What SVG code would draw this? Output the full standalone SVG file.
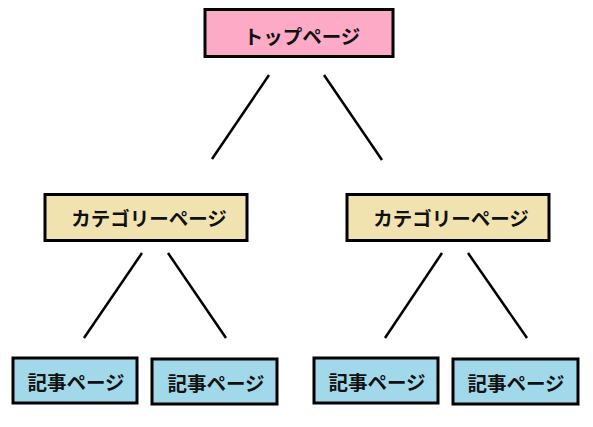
<svg xmlns="http://www.w3.org/2000/svg" width="593" height="427" viewBox="0 0 593 427">
<style>
.box{stroke:#000;stroke-width:3}
.top{fill:#fdaac7}
.cat{fill:#f1e3b0}
.leaf{fill:#a2d9ea}
text{font-family:"Noto Sans CJK JP","Noto Sans",sans-serif;font-weight:bold;font-size:19.5px;fill:#111;text-anchor:middle;dominant-baseline:central}
.conn line{stroke:#000;stroke-width:2.5}
</style>
<rect width="593" height="427" fill="#fff"/>
<g class="conn" id="connectors">
<line x1="269" y1="75" x2="212" y2="159"/>
<line x1="324" y1="75" x2="382" y2="160"/>
<line x1="142" y1="253" x2="84" y2="338"/>
<line x1="168" y1="253" x2="226" y2="338"/>
<line x1="442" y1="253" x2="385" y2="338"/>
<line x1="468" y1="253" x2="527" y2="338"/>
</g>
<g id="top">
<rect class="box top" x="205" y="9.5" width="188" height="47"/>
<text x="302" y="35.5">トップページ</text>
</g>
<g id="cat1">
<rect class="box cat" x="45" y="194.5" width="202" height="46"/>
<text x="149" y="217.5">カテゴリーページ</text>
</g>
<g id="cat2">
<rect class="box cat" x="347" y="194.5" width="202" height="46"/>
<text x="451" y="217.5">カテゴリーページ</text>
</g>
<g id="leaf1">
<rect class="box leaf" x="13" y="358" width="124" height="45"/>
<text x="76" y="381">記事ページ</text>
</g>
<g id="leaf2">
<rect class="box leaf" x="152" y="359" width="125" height="45"/>
<text x="216" y="382">記事ページ</text>
</g>
<g id="leaf3">
<rect class="box leaf" x="314" y="358" width="124" height="45"/>
<text x="377" y="381">記事ページ</text>
</g>
<g id="leaf4">
<rect class="box leaf" x="453" y="359" width="125" height="45"/>
<text x="516" y="382">記事ページ</text>
</g>
</svg>
